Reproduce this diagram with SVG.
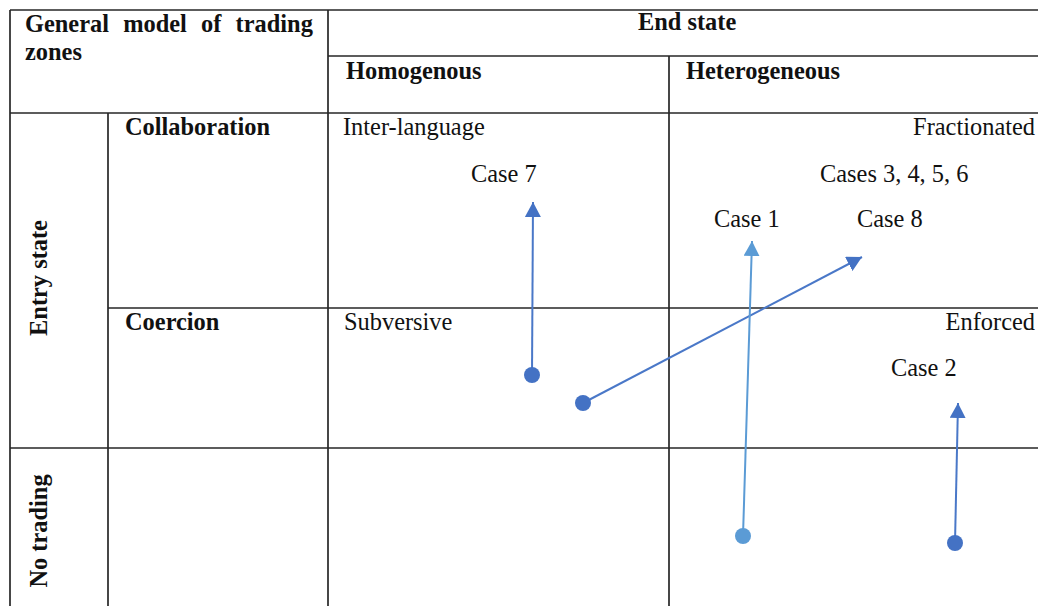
<svg xmlns="http://www.w3.org/2000/svg" width="1038" height="606" viewBox="0 0 1038 606">
<style>
.grid line{stroke:#262626;stroke-width:1.7}
text{font-family:"Liberation Serif","Times New Roman",serif;font-size:24.4px;fill:#111}
.b{font-weight:bold}
.r{text-anchor:end}
.dk{stroke:#4a78c8;stroke-width:2;fill:none}
.lt{stroke:#5b9bd5;stroke-width:2;fill:none}
</style>
<defs>
<marker id="hd" markerUnits="userSpaceOnUse" markerWidth="16" markerHeight="16" refX="15" refY="8" orient="auto" viewBox="0 0 16 16"><path d="M0,0 L15,8 L0,16 Z" fill="#4472c4"/></marker>
<marker id="hl" markerUnits="userSpaceOnUse" markerWidth="16" markerHeight="16" refX="15" refY="8" orient="auto" viewBox="0 0 16 16"><path d="M0,0 L15,8 L0,16 Z" fill="#5b9bd5"/></marker>
<marker id="dd" markerUnits="userSpaceOnUse" markerWidth="18" markerHeight="18" refX="9" refY="9" viewBox="0 0 18 18"><circle cx="9" cy="9" r="8" fill="#4472c4"/></marker>
<marker id="dl" markerUnits="userSpaceOnUse" markerWidth="18" markerHeight="18" refX="9" refY="9" viewBox="0 0 18 18"><circle cx="9" cy="9" r="8" fill="#5b9bd5"/></marker>
</defs>
<rect width="1038" height="606" fill="#fff"/>
<g id="table" class="grid">
<line x1="10" y1="10" x2="1038" y2="10"/>
<line x1="328" y1="56" x2="1038" y2="56"/>
<line x1="10" y1="113" x2="1038" y2="113"/>
<line x1="108" y1="308" x2="1038" y2="308"/>
<line x1="10" y1="448" x2="1038" y2="448"/>
<line x1="10" y1="10" x2="10" y2="606"/>
<line x1="108" y1="113" x2="108" y2="606"/>
<line x1="328" y1="10" x2="328" y2="606"/>
<line x1="669" y1="56" x2="669" y2="606"/>
</g>
<g id="header">
<text class="b" x="25" y="32" word-spacing="8.1">General model of trading</text>
<text class="b" x="25" y="60">zones</text>
<text class="b" x="638" y="30">End state</text>
<text class="b" x="346" y="79">Homogenous</text>
<text class="b" x="686" y="79">Heterogeneous</text>
<text class="b" transform="translate(47,278) rotate(-90)" text-anchor="middle">Entry state</text>
<text class="b" transform="translate(47,531) rotate(-90)" text-anchor="middle">No trading</text>
<text class="b" x="125" y="135">Collaboration</text>
<text class="b" x="125" y="330">Coercion</text>
</g>
<g id="cell-interlanguage"><text x="343" y="135">Inter-language</text></g>
<g id="cell-fractionated"><text class="r" x="1035" y="135">Fractionated</text></g>
<g id="cell-subversive"><text x="344" y="330">Subversive</text></g>
<g id="cell-enforced"><text class="r" x="1035" y="330">Enforced</text></g>
<g id="case7"><text x="471" y="182">Case 7</text></g>
<g id="cases3456"><text x="820" y="182">Cases 3, 4, 5, 6</text></g>
<g id="case1"><text x="714" y="227">Case 1</text></g>
<g id="case8"><text x="857" y="227">Case 8</text></g>
<g id="case2"><text x="891" y="376">Case 2</text></g>
<g id="connectors">
<line class="dk" x1="532" y1="375" x2="533" y2="202" marker-start="url(#dd)" marker-end="url(#hd)"/>
<line class="dk" x1="583" y1="403" x2="862" y2="257" marker-start="url(#dd)" marker-end="url(#hd)"/>
<line class="lt" x1="743" y1="536" x2="752" y2="241" marker-start="url(#dl)" marker-end="url(#hl)"/>
<line class="dk" x1="955" y1="543" x2="958" y2="403" marker-start="url(#dd)" marker-end="url(#hd)"/>
</g>
</svg>
